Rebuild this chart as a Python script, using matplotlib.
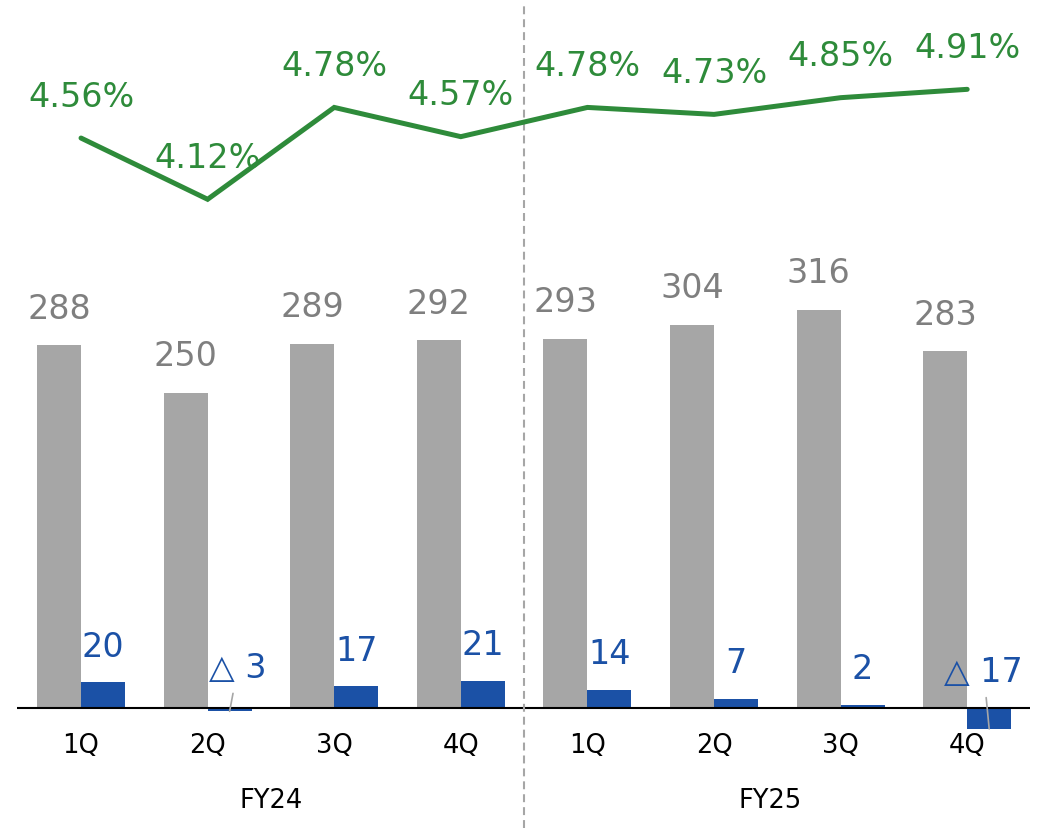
import numpy as np
import matplotlib.pyplot as plt

# Quarterly figures, FY24 and FY25
quarters = ["1Q", "2Q", "3Q", "4Q", "1Q", "2Q", "3Q", "4Q"]
years = ["FY24", "FY25"]
sales = [288, 250, 289, 292, 293, 304, 316, 283]
profit = [20, -3, 17, 21, 14, 7, 2, -17]
ratio = [4.56, 4.12, 4.78, 4.57, 4.78, 4.73, 4.85, 4.91]

GRAY = "#a6a6a6"
GRAY_TXT = "#7f7f7f"
BLUE = "#1b51a6"
GREEN = "#2e8b3a"

fig = plt.figure(figsize=(10.51, 8.29), dpi=100)
ax = fig.add_axes([0, 0, 1, 1])
ax2 = ax.twinx()

x = np.arange(len(quarters))
w = 0.3475

ax.bar(x - w / 2, sales, w, color=GRAY)
ax.bar(x + w / 2, profit, w, color=BLUE)

ax.set_xlim(-0.64, 7.662)
ax.set_ylim(-95.7, 562.9)
ax2.set_ylim(-0.397, 5.559)

# zero line and the FY divider
ax.plot([-0.506, 7.496], [0, 0], color="black", lw=1.5, solid_capstyle="butt")
ax.plot([3.5, 3.5], [-95.7, 558], color=GRAY, lw=1.5, dashes=(3.8, 2.4))

# sales labels
for xi, v in zip(x, sales):
    ax.annotate(str(v), (xi - w / 2, v), xytext=(0, 26.6), textcoords="offset points",
                ha="center", va="center", fontsize=24, color=GRAY_TXT)

# profit labels, negatives shown with a triangle and a leader line
neg_offsets = {1: (6, 29), 7: (-4, 26)}
for i, (xi, v) in enumerate(zip(x, profit)):
    if v >= 0:
        ax.annotate(str(v), (xi + w / 2, v), xytext=(0, 26), textcoords="offset points",
                    ha="center", va="center", fontsize=24, color=BLUE)
    else:
        dx, dy = neg_offsets[i]
        ax.annotate(f"△ {abs(v)}", (xi + w / 2, v), xytext=(dx, dy - v * 0.906),
                    textcoords="offset points", ha="center", va="center",
                    fontsize=24, color=BLUE,
                    arrowprops=dict(arrowstyle="-", color=GRAY, lw=1.2,
                                    shrinkA=5, shrinkB=0))

# ratio line
ax2.plot(x, ratio, color=GREEN, lw=3.6, solid_joinstyle="miter", solid_capstyle="round")
for xi, v in zip(x, ratio):
    ax2.annotate(f"{v:.2f}%", (xi, v), xytext=(0, 30.2), textcoords="offset points",
                 ha="center", va="center", fontsize=24, color=GREEN)

# category and year labels
for xi, q in zip(x, quarters):
    ax.text(xi, -29.6, q, ha="center", va="center", fontsize=18.5, color="black")
year_x = [1.5, 5.44]
for xp, yr in zip(year_x, years):
    ax.text(xp, -73.3, yr, ha="center", va="center", fontsize=18.5, color="black")

ax.axis("off")
ax2.axis("off")

fig.savefig("out.png", dpi=100)
